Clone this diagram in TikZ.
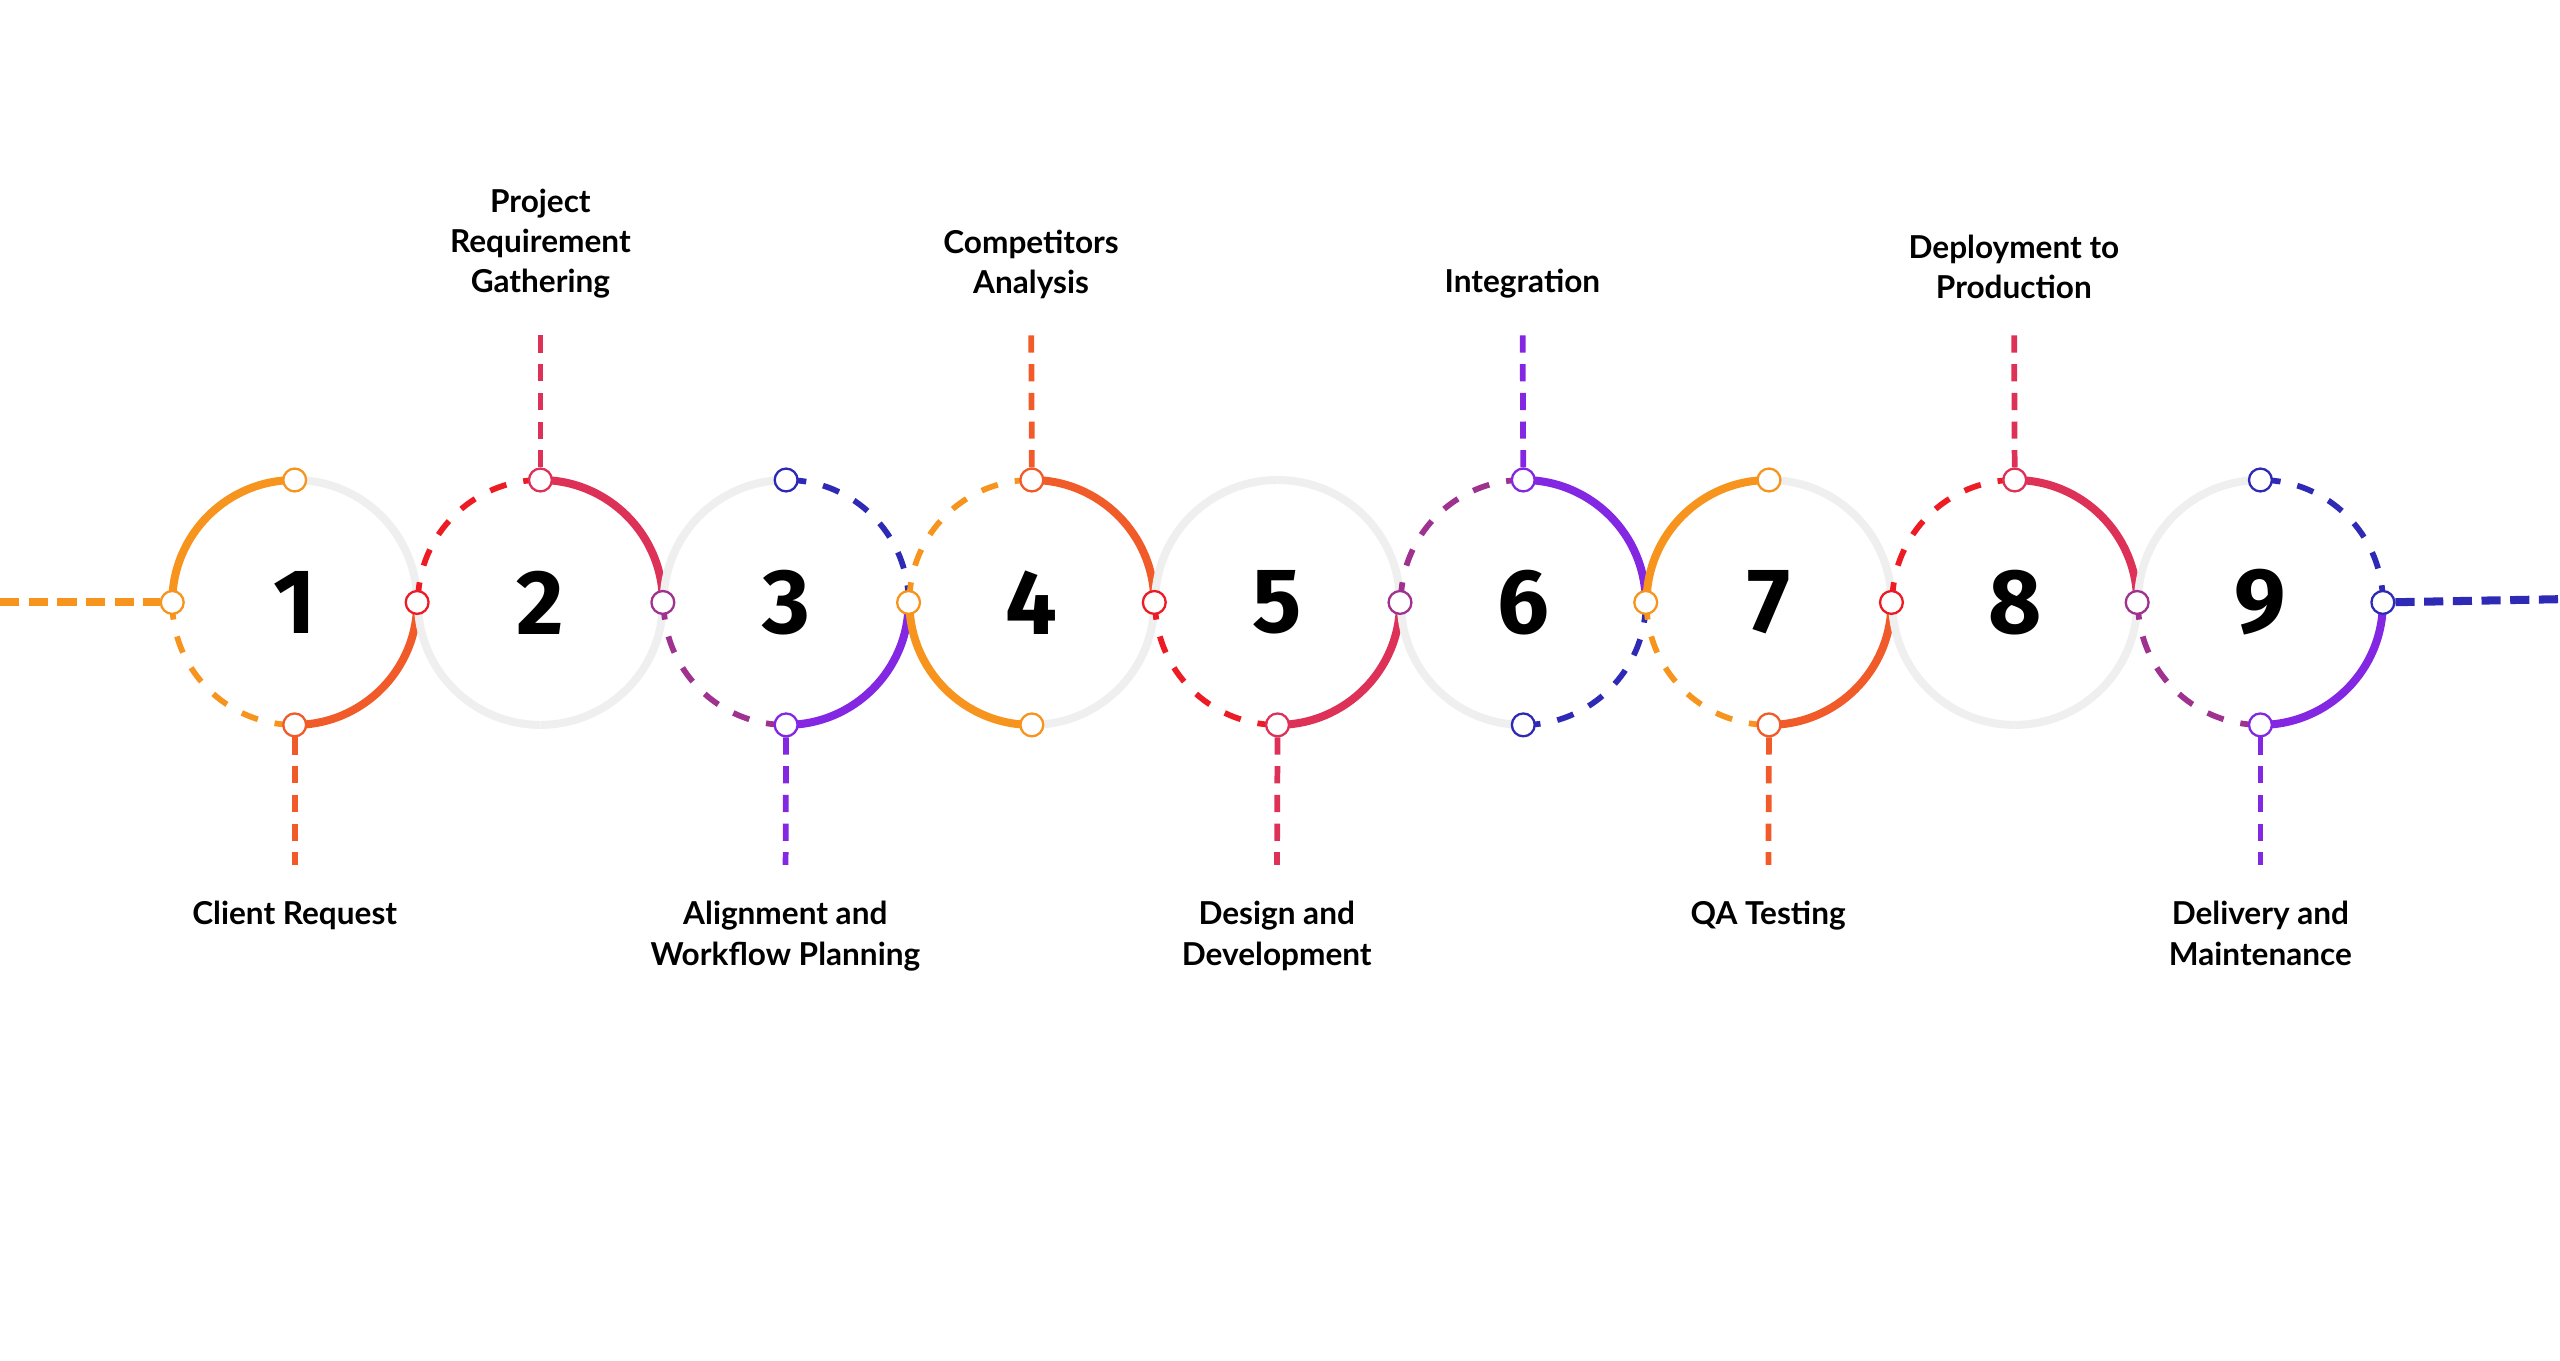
\documentclass[tikz,border=0pt]{standalone}
\usepackage{fontspec}
\setmainfont{Lato}
\newfontfamily\numfont{Fira Sans}
\usetikzlibrary{positioning, calc}
\definecolor{ora}{HTML}{F7941D}
\definecolor{ors}{HTML}{F15A29}
\definecolor{crim}{HTML}{DE3157}
\definecolor{rd}{HTML}{ED1C24}
\definecolor{pur}{HTML}{8427E2}
\definecolor{mag}{HTML}{A0328F}
\definecolor{navy}{HTML}{2E2AB5}
\definecolor{gry}{HTML}{EFEFEF}
\tikzset{
  sarc/.style={line width=4.2pt, draw=#1},
  darc/.style={line width=3pt, draw=#1, dash pattern=on 9pt off 9pt},
  dot/.style={circle, draw=#1, fill=white, line width=1.2pt, inner sep=0pt, minimum size=0.42cm},
  stem/.style={line width=3pt, draw=#1, dash pattern=on 9pt off 6pt},
  tail/.style={line width=4.2pt, draw=#1, dash pattern=on 10pt off 5pt},
  num/.style={font=\numfont\bfseries\fontsize{48}{48}\selectfont},
  lab/.style={font=\bfseries\fontsize{16.5}{21}\selectfont, align=center}
}
% step circle: number, then quarter arcs TR, TL, BL, BR
\newcommand{\stepring}[5]{%
  \coordinate (c#1) at ({180.5+150.5*(#1-1)},464);
  \draw[#2] ($(c#1)+(75,0)$) arc[start angle=0, end angle=90, radius=75];
  \draw[#3] ($(c#1)+(0,75)$) arc[start angle=90, end angle=180, radius=75];
  \draw[#4] ($(c#1)+(-75,0)$) arc[start angle=180, end angle=270, radius=75];
  \draw[#5] ($(c#1)+(0,-75)$) arc[start angle=270, end angle=360, radius=75];
  \node[num] (n#1) at (c#1) {#1};}
\begin{document}
\begin{tikzpicture}[x=0.03cm, y=0.03cm]
\useasboundingbox (0,0) rectangle (1568,833);
% circles
\stepring{1}{sarc=gry}{sarc=ora}{darc=ora}{sarc=ors}
\stepring{2}{sarc=crim}{darc=rd}{sarc=gry}{sarc=gry}
\stepring{3}{darc=navy}{sarc=gry}{darc=mag}{sarc=pur}
\stepring{4}{sarc=ors}{darc=ora}{sarc=ora}{sarc=gry}
\stepring{5}{sarc=gry}{sarc=gry}{darc=rd}{sarc=crim}
\stepring{6}{sarc=pur}{darc=mag}{sarc=gry}{darc=navy}
\stepring{7}{sarc=gry}{sarc=ora}{darc=ora}{sarc=ors}
\stepring{8}{sarc=crim}{darc=rd}{sarc=gry}{sarc=gry}
\stepring{9}{darc=navy}{sarc=gry}{darc=mag}{sarc=pur}

% markers
\node[dot=ora]  (l1) at ($(c1)+(-75,0)$) {};
\node[dot=ora]  (t1) at ($(c1)+(0,75)$) {};
\node[dot=rd]   (r1) at ($(c1)+(75,0)$) {};
\node[dot=ors]  (b1) at ($(c1)+(0,-75)$) {};
\node[dot=crim] (t2) at ($(c2)+(0,75)$) {};
\node[dot=mag]  (r2) at ($(c2)+(75,0)$) {};
\node[dot=navy] (t3) at ($(c3)+(0,75)$) {};
\node[dot=ora]  (r3) at ($(c3)+(75,0)$) {};
\node[dot=pur]  (b3) at ($(c3)+(0,-75)$) {};
\node[dot=ors]  (t4) at ($(c4)+(0,75)$) {};
\node[dot=rd]   (r4) at ($(c4)+(75,0)$) {};
\node[dot=ora]  (b4) at ($(c4)+(0,-75)$) {};
\node[dot=mag]  (r5) at ($(c5)+(75,0)$) {};
\node[dot=crim] (b5) at ($(c5)+(0,-75)$) {};
\node[dot=pur]  (t6) at ($(c6)+(0,75)$) {};
\node[dot=ora]  (r6) at ($(c6)+(75,0)$) {};
\node[dot=navy] (b6) at ($(c6)+(0,-75)$) {};
\node[dot=ora]  (t7) at ($(c7)+(0,75)$) {};
\node[dot=rd]   (r7) at ($(c7)+(75,0)$) {};
\node[dot=ors]  (b7) at ($(c7)+(0,-75)$) {};
\node[dot=crim] (t8) at ($(c8)+(0,75)$) {};
\node[dot=mag]  (r8) at ($(c8)+(75,0)$) {};
\node[dot=navy] (t9) at ($(c9)+(0,75)$) {};
\node[dot=navy] (r9) at ($(c9)+(75,0)$) {};
\node[dot=pur]  (b9) at ($(c9)+(0,-75)$) {};

% labels
\node[lab, anchor=south] (s2) at (331,646) {Project\\Requirement\\Gathering};
\node[lab, anchor=south] (s4) at (631.5,646) {Competitors\\Analysis};
\node[lab, anchor=south] (s6) at (932.5,646) {Integration};
\node[lab, anchor=south] (s8) at (1233.5,646) {Deployment to\\Production};
\node[lab, anchor=north] (s1) at (180.5,285) {Client Request};
\node[lab, anchor=north] (s3) at (481,285) {Alignment and\\Workflow Planning};
\node[lab, anchor=north] (s5) at (782,285) {Design and\\Development};
\node[lab, anchor=north] (s7) at (1083,285) {QA Testing};
\node[lab, anchor=north] (s9) at (1384.5,285) {Delivery and\\Maintenance};

% stems
\draw[stem=crim, shorten >=0.55cm] (t2) -- (s2);
\draw[stem=ors,  shorten >=0.55cm] (t4) -- (s4);
\draw[stem=pur,  shorten >=0.55cm] (t6) -- (s6);
\draw[stem=crim, shorten >=0.55cm] (t8) -- (s8);
\draw[stem=ors,  shorten >=0.55cm] (b1) -- (s1);
\draw[stem=pur,  shorten >=0.55cm] (b3) -- (s3);
\draw[stem=crim, shorten >=0.55cm] (b5) -- (s5);
\draw[stem=ors,  shorten >=0.55cm] (b7) -- (s7);
\draw[stem=pur,  shorten >=0.55cm] (b9) -- (s9);

% tails
\coordinate (lend) at (0,464);
\coordinate (rend) at (1568,466);
\draw[tail=ora] (lend) -- (l1);
\draw[tail=navy] (r9) -- (rend);
\end{tikzpicture}
\end{document}
